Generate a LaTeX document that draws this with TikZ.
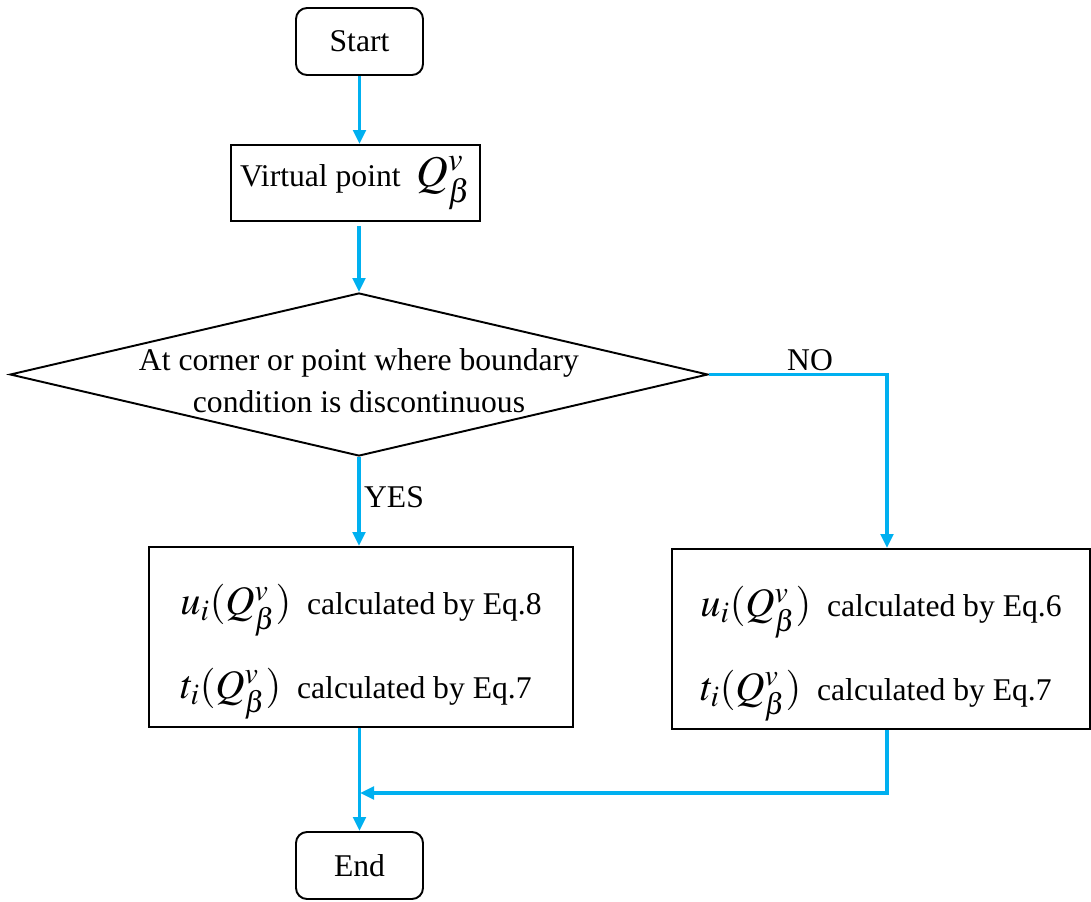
\documentclass[tikz,border=0pt]{standalone}
\usepackage{mathptmx}
\usepackage{fontspec}
\setmainfont{Liberation Serif}
\usetikzlibrary{arrows.meta, shapes.geometric, positioning}
\usepackage{xcolor}
\definecolor{flowblue}{RGB}{0,176,240}
\newcommand{\mfont}{\fontsize{23}{27}\selectfont}

\begin{document}
\begin{tikzpicture}[
    every node/.style={font=\fontsize{18}{24}\selectfont},
    term/.style={draw, line width=1.1pt, rounded corners=0.22cm, minimum width=2.54cm, minimum height=1.34cm},
    procbox/.style={draw, line width=1.1pt, minimum width=#1, minimum height=3.6cm},
    decide/.style={draw, line width=1.1pt, diamond, inner sep=0pt, minimum width=13.96cm, minimum height=3.26cm},
    flow/.style={flowblue, line width=2pt, -{Triangle[length=2.8mm, width=2.5mm]}}
  ]
  \useasboundingbox (0,0) rectangle (21.82,-18.04);

  \node[term] (start) at (7.19,-0.83) {Start};
  \node[draw, line width=1.1pt, minimum width=4.98cm, minimum height=1.52cm] (virt) at (7.11,-3.66)
    {Virtual point\ \ {\fontsize{25}{30}\selectfont$Q_\beta^v$}};
  \node[decide] (dec) at (7.18,-7.49) {};
  \node[align=center, yshift=-0.12cm] (dectext) at (dec) {At corner or point where boundary\\condition is discontinuous};
  \node[procbox=8.48cm] (left) at (7.22,-12.74) {};
  \node[align=left, yshift=-0.3cm] (lefttext) at (left)
    {{\mfont$u_i(Q_\beta^v)$}\ \ calculated by Eq.8\\[0.6cm]{\mfont$t_i(Q_\beta^v)$}\ \ calculated by Eq.7};
  \node[procbox=8.36cm] (right) at (17.62,-12.78) {};
  \node[align=left, yshift=-0.3cm] (righttext) at (right)
    {{\mfont$u_i(Q_\beta^v)$}\ \ calculated by Eq.6\\[0.6cm]{\mfont$t_i(Q_\beta^v)$}\ \ calculated by Eq.7};
  \node[term] (end) at (7.19,-17.31) {End};
  \node (no) at (16.2,-7.2) {NO};
  \node (yes) at (7.88,-9.94) {YES};
  \coordinate (join) at (7.2,-15.86);

  \draw[flow] (start.south) -- (start.south |- virt.north);
  \draw[flow] (dec.north |- virt.south) ++(0,-0.08) -- (dec.north);
  \draw[flow] (dec.east) -| ([xshift=0.12cm]right.north);
  \draw[flow] (dec.south) -- (left.north -| dec.south);
  \draw[flow] (left.south -| end.north) -- (end.north);
  \draw[flow] ([xshift=0.12cm]right.south) |- (join);
\end{tikzpicture}
\end{document}
